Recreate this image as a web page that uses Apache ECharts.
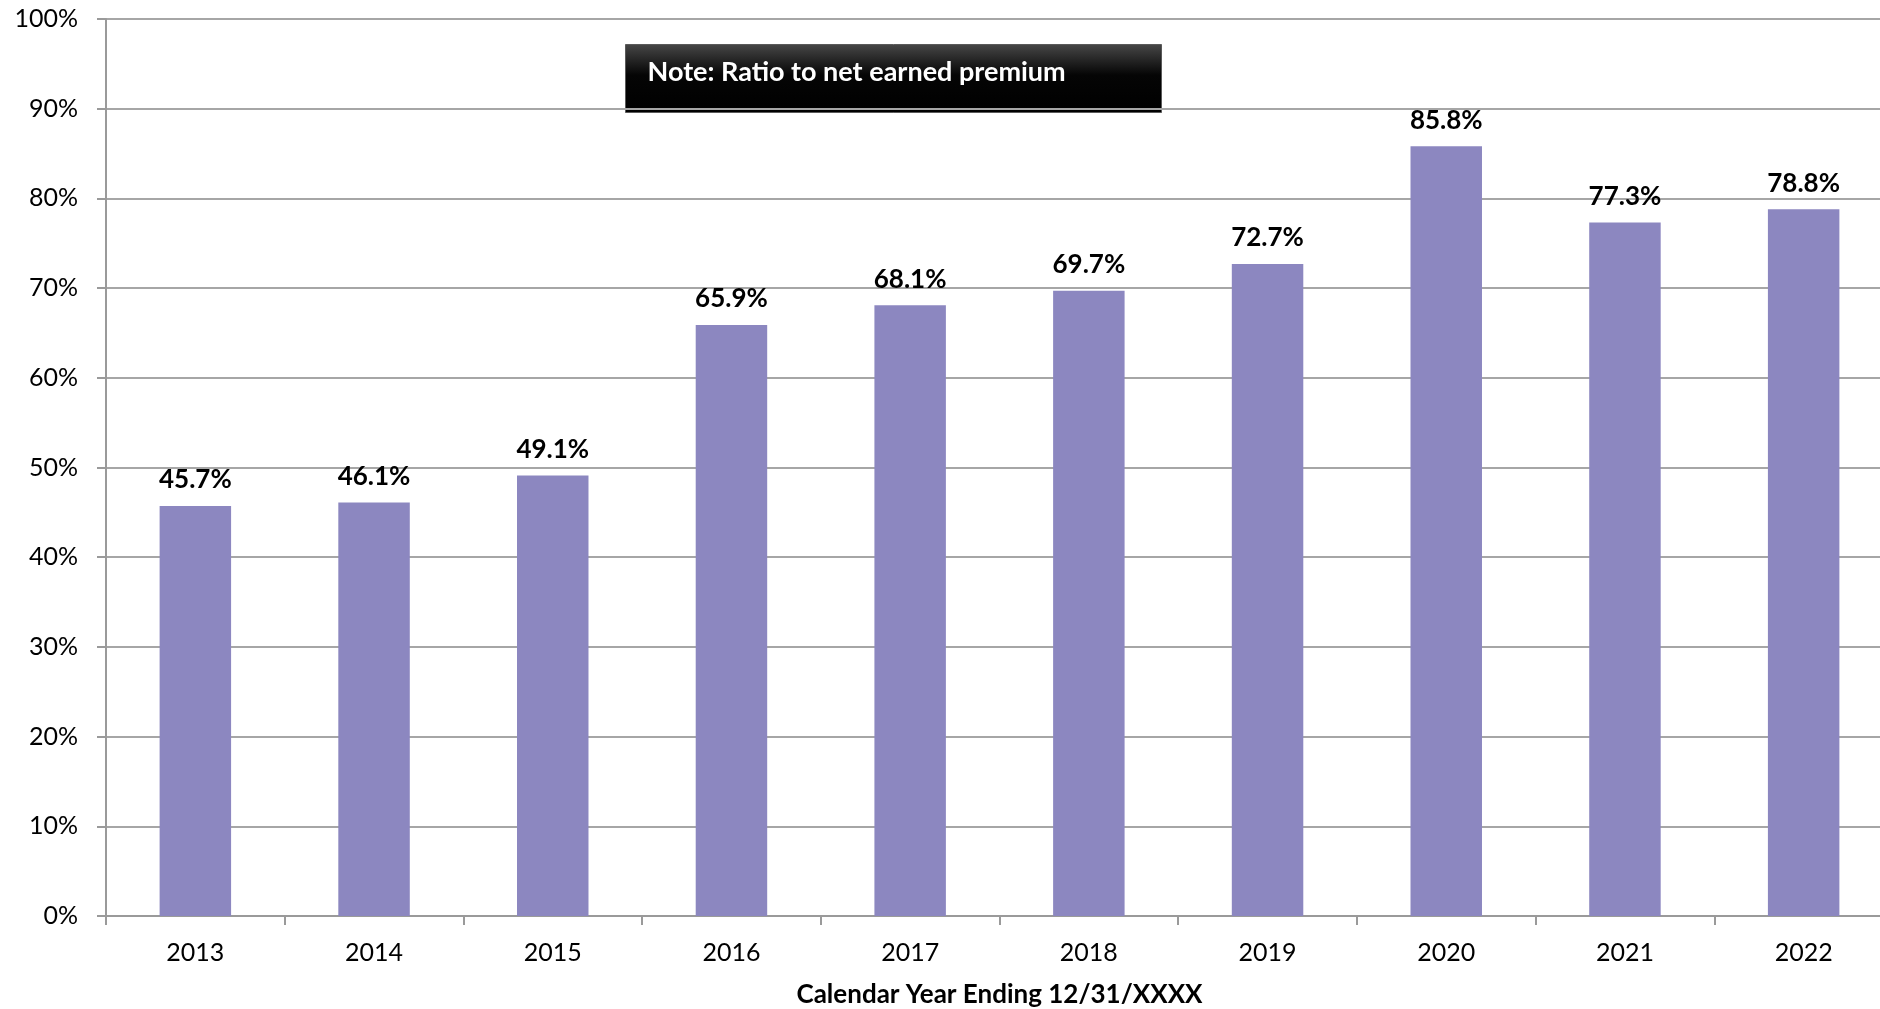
<!DOCTYPE html>
<html>
<head>
<meta charset="utf-8">
<script src="https://cdn.jsdelivr.net/npm/echarts@6/dist/echarts.min.js"></script>
<style>
  html, body { margin: 0; padding: 0; background: #ffffff; }
  #chart { width: 1880px; height: 1009px; }
</style>
</head>
<body>
<div id="chart"></div>
<script>
// Calendar years and loss ratios (percent of net earned premium)
const years = ['2013', '2014', '2015', '2016', '2017', '2018', '2019', '2020', '2021', '2022'];
const ratios = [45.7, 46.1, 49.1, 65.9, 68.1, 69.7, 72.7, 85.8, 77.3, 78.8];
const yTicks = [0, 10, 20, 30, 40, 50, 60, 70, 80, 90, 100];
const noteText = 'Note: Ratio to net earned premium';
const xTitle = 'Calendar Year Ending 12/31/XXXX';

const FONT = 'Lato, "Open Sans", sans-serif';

const chart = echarts.init(document.getElementById('chart'), null, { renderer: 'canvas' });

chart.setOption({
  animation: false,
  backgroundColor: '#ffffff',
  grid: { left: 106, right: -13, top: 19, bottom: 93, containLabel: false, outerBoundsMode: 'none' },
  xAxis: {
    type: 'category',
    data: years,
    boundaryGap: true,
    name: xTitle,
    nameLocation: 'middle',
    nameGap: 66,
    nameTextStyle: { fontFamily: FONT, fontSize: 26, fontWeight: 'bold', color: '#000' },
    axisLine: { show: true, lineStyle: { color: '#9a9a9a', width: 2 } },
    axisTick: { show: true, alignWithLabel: false, length: 9, lineStyle: { color: '#9a9a9a', width: 2 } },
    axisLabel: { fontFamily: FONT, fontSize: 25, color: '#000', margin: 24 }
  },
  yAxis: {
    type: 'value',
    min: yTicks[0],
    max: yTicks[yTicks.length - 1],
    interval: 10,
    axisLine: { show: true, lineStyle: { color: '#9a9a9a', width: 2 } },
    axisTick: { show: true, length: 9, lineStyle: { color: '#9a9a9a', width: 2 } },
    splitLine: { show: true, lineStyle: { color: '#a6a6a6', width: 2 } },
    axisLabel: {
      fontFamily: FONT, fontSize: 25, color: '#000', margin: 28,
      formatter: v => v + '%'
    }
  },
  series: [{
    type: 'bar',
    data: ratios,
    barWidth: '40%',
    itemStyle: { color: '#8c87c0' },
    label: {
      show: true,
      position: 'top',
      distance: 13,
      fontFamily: FONT,
      fontSize: 26,
      fontWeight: 'bold',
      color: '#000',
      formatter: p => p.value.toFixed(1) + '%'
    }
  }],
  graphic: [{
    type: 'group',
    left: 625,
    top: 44,
    z: 100,
    children: [{
      type: 'rect',
      shape: { x: 0, y: 0, width: 536, height: 68 },
      style: {
        fill: new echarts.graphic.LinearGradient(0, 0, 0, 1, [
          { offset: 0, color: '#474747' },
          { offset: 0.45, color: '#050505' },
          { offset: 1, color: '#000000' }
        ]),
        stroke: '#5a5a5a',
        lineWidth: 1
      }
    }, {
      type: 'text',
      x: 22,
      y: 28,
      style: {
        text: noteText,
        fontFamily: FONT,
        fontSize: 27,
        fontWeight: 'bold',
        fill: '#ffffff',
        verticalAlign: 'middle'
      }
    }]
  }]
});
</script>
</body>
</html>
